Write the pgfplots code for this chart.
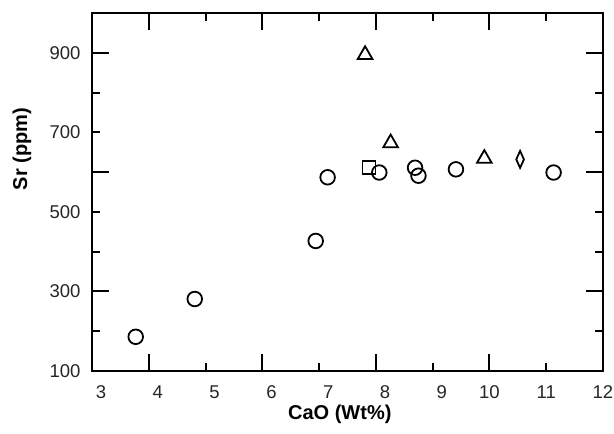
\documentclass[border=0pt]{standalone}
\usepackage{pgfplots}
\pgfplotsset{compat=1.18}
\usepackage{fontspec}
\setmainfont{Liberation Sans}
\begin{document}
\begin{tikzpicture}
\useasboundingbox[fill=white] (-92pt,-63pt) rectangle (522pt,371pt);
\begin{axis}[
  at={(0pt,0pt)}, anchor=south west,
  scale only axis, width=511pt, height=358pt,
  xmin=3, xmax=12, ymin=100, ymax=1000,
  axis line style={line width=2pt},
  every tick/.style={line width=2pt, black},
  tick align=inside,
  major tick length=17pt, minor tick length=8pt,
  xtick={4,6,8,10}, xticklabels={,,,},
  minor xtick={5,7,9,11},
  ytick={300,600,900}, yticklabels={,,},
  minor ytick={200,400,500,700,800},
  extra x ticks={3.16,4.16,5.16,6.16,7.16,8.16,9.16,10,11,12},
  extra x tick labels={3,4,5,6,7,8,9,10,11,12},
  extra y ticks={100,300,500,700,900},
  extra y tick labels={100,300,500,700,900},
  extra tick style={major tick length=0pt, tick style={draw=none}},
  /pgf/number format/assume math mode=true,
  tick label style={font={\fontsize{18.5pt}{22pt}\selectfont}, text=black!85},
  xticklabel style={yshift=-11pt},
  yticklabel style={xshift=-8pt},
  xlabel={CaO (Wt\%)}, ylabel={Sr (ppm)},
  label style={font={\fontsize{20pt}{24pt}\selectfont\bfseries}},
  xlabel style={at={(axis description cs:0.485,0)}, anchor=center, yshift=-43pt},
  ylabel style={at={(axis description cs:-0.137,0.62)}, anchor=center},
  clip=false,
]
\addplot[only marks, mark=o, mark size=7.3pt, line width=1.8pt] coordinates {
(3.77,186) (4.81,281) (6.94,427) (7.15,587) (8.06,599) (8.69,611) (8.75,591) (9.41,607) (11.13,599)
};
\addplot[only marks, mark=triangle, mark size=8.5pt, line width=1.8pt] coordinates {
(7.81,895) (8.26,673) (9.91,634)
};
\addplot[only marks, mark=square, mark size=6.5pt, line width=1.8pt] coordinates {
(7.88,611)
};
\addplot[only marks, mark=diamond, mark size=8.5pt, line width=1.8pt, mark options={xscale=0.6}] coordinates {
(10.54,632)
};
\end{axis}
\end{tikzpicture}
\end{document}
